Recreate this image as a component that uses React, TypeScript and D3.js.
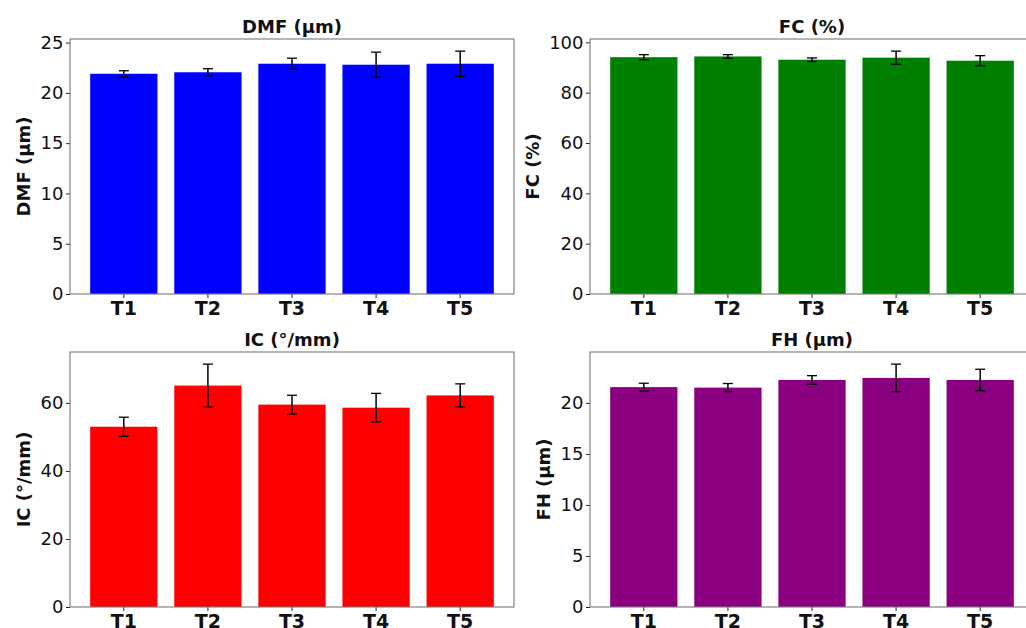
import React, { useEffect, useRef } from "react"
import * as d3 from "d3"

const categories = ["T1", "T2", "T3", "T4", "T5"]

const dmfMean = [21.9, 22.05, 22.9, 22.8, 22.9]
const dmfErr = [0.3, 0.35, 0.55, 1.25, 1.25]
const dmfTicks = [0, 5, 10, 15, 20, 25]

const fcMean = [94.1, 94.4, 93.1, 93.9, 92.7]
const fcErr = [1.0, 0.7, 0.7, 2.6, 2.0]
const fcTicks = [0, 20, 40, 60, 80, 100]

const icMean = [53.0, 65.1, 59.5, 58.6, 62.2]
const icErr = [2.8, 6.3, 2.75, 4.2, 3.4]
const icTicks = [0, 20, 40, 60]

const fhMean = [21.55, 21.5, 22.25, 22.45, 22.25]
const fhErr = [0.38, 0.4, 0.42, 1.35, 1.05]
const fhTicks = [0, 5, 10, 15, 20]

const FONT = "DejaVu Sans, sans-serif"

// layout of the 2x2 grid (pixels)
const panels = [
  { title: "DMF (µm)", mean: dmfMean, err: dmfErr, ticks: dmfTicks, color: "#0000ff", left: 70, top: 39, labelX: 30 },
  { title: "FC (%)", mean: fcMean, err: fcErr, ticks: fcTicks, color: "#008000", left: 590, top: 39, labelX: 539 },
  { title: "IC (°/mm)", mean: icMean, err: icErr, ticks: icTicks, color: "#ff0000", left: 70, top: 352, labelX: 30 },
  { title: "FH (µm)", mean: fhMean, err: fhErr, ticks: fhTicks, color: "#8b0080", left: 590, top: 352, labelX: 550 },
]
const PW = 444
const PH = 255

export default function App() {
  const ref = useRef<SVGSVGElement>(null)

  useEffect(() => {
    const svg = d3.select(ref.current)
    svg.selectAll("*").remove()

    panels.forEach((p) => {
      const g = svg.append("g").attr("transform", `translate(${p.left},${p.top})`)

      const x = d3.scaleBand<string>()
        .domain(categories)
        .range([0, PW])
        .paddingInner(0.2)
        .paddingOuter(0.24)

      const top = d3.max(p.mean.map((m, i) => m + p.err[i])) as number
      const y = d3.scaleLinear()
        .domain([0, top * 1.05])
        .range([PH, 0])

      // bars
      g.selectAll("rect.bar")
        .data(p.mean)
        .enter()
        .append("rect")
        .attr("class", "bar")
        .attr("x", (d, i) => x(categories[i]) as number)
        .attr("width", x.bandwidth())
        .attr("y", (d) => y(d))
        .attr("height", (d) => PH - y(d))
        .attr("fill", p.color)

      // error bars
      const eb = g.selectAll("g.err")
        .data(p.mean)
        .enter()
        .append("g")
        .attr("class", "err")
        .attr("transform", (d, i) => `translate(${(x(categories[i]) as number) + x.bandwidth() / 2},0)`)
      eb.append("line")
        .attr("y1", (d, i) => y(d - p.err[i]))
        .attr("y2", (d, i) => y(d + p.err[i]))
        .attr("stroke", "#000")
        .attr("stroke-width", 1.5)
      ;[-1, 1].forEach((s) => {
        eb.append("line")
          .attr("x1", -5).attr("x2", 5)
          .attr("y1", (d, i) => y(d + s * p.err[i]))
          .attr("y2", (d, i) => y(d + s * p.err[i]))
          .attr("stroke", "#000")
          .attr("stroke-width", 1.3)
      })

      // axes
      const yAxis = d3.axisLeft(y).tickValues(p.ticks).tickFormat(d3.format("d")).tickSize(4).tickSizeOuter(0).tickPadding(2.5)
      const ya = g.append("g").call(yAxis)
      ya.select(".domain").remove()
      ya.selectAll("line").attr("stroke", "#222")
      ya.selectAll("text").attr("font-size", 18).attr("font-family", FONT).attr("fill", "#111")

      const xAxis = d3.axisBottom(x).tickSize(4).tickSizeOuter(0).tickPadding(3.5)
      const xa = g.append("g").attr("transform", `translate(0,${PH})`).call(xAxis)
      xa.select(".domain").remove()
      xa.selectAll("line").attr("stroke", "#222")
      xa.selectAll("text").attr("font-size", 19).attr("font-weight", "bold").attr("font-family", FONT).attr("fill", "#111")

      // spines
      g.append("rect")
        .attr("x", 0).attr("y", 0)
        .attr("width", PW).attr("height", PH)
        .attr("fill", "none")
        .attr("stroke", "#777")
        .attr("stroke-width", 1.1)

      // title
      g.append("text")
        .attr("x", PW / 2).attr("y", -6)
        .attr("text-anchor", "middle")
        .attr("font-size", 18).attr("font-weight", "bold").attr("font-family", FONT)
        .attr("fill", "#111")
        .text(p.title)

      // y label
      svg.append("text")
        .attr("transform", `translate(${p.labelX},${p.top + PH / 2}) rotate(-90)`)
        .attr("text-anchor", "middle")
        .attr("font-size", 18).attr("font-weight", "bold").attr("font-family", FONT)
        .attr("fill", "#111")
        .text(p.title)
    })
  }, [])

  return (
    <svg ref={ref} width={1026} height={628}
      style={{ position: "absolute", left: 0, top: 0, background: "#fff" }} />
  )
}
